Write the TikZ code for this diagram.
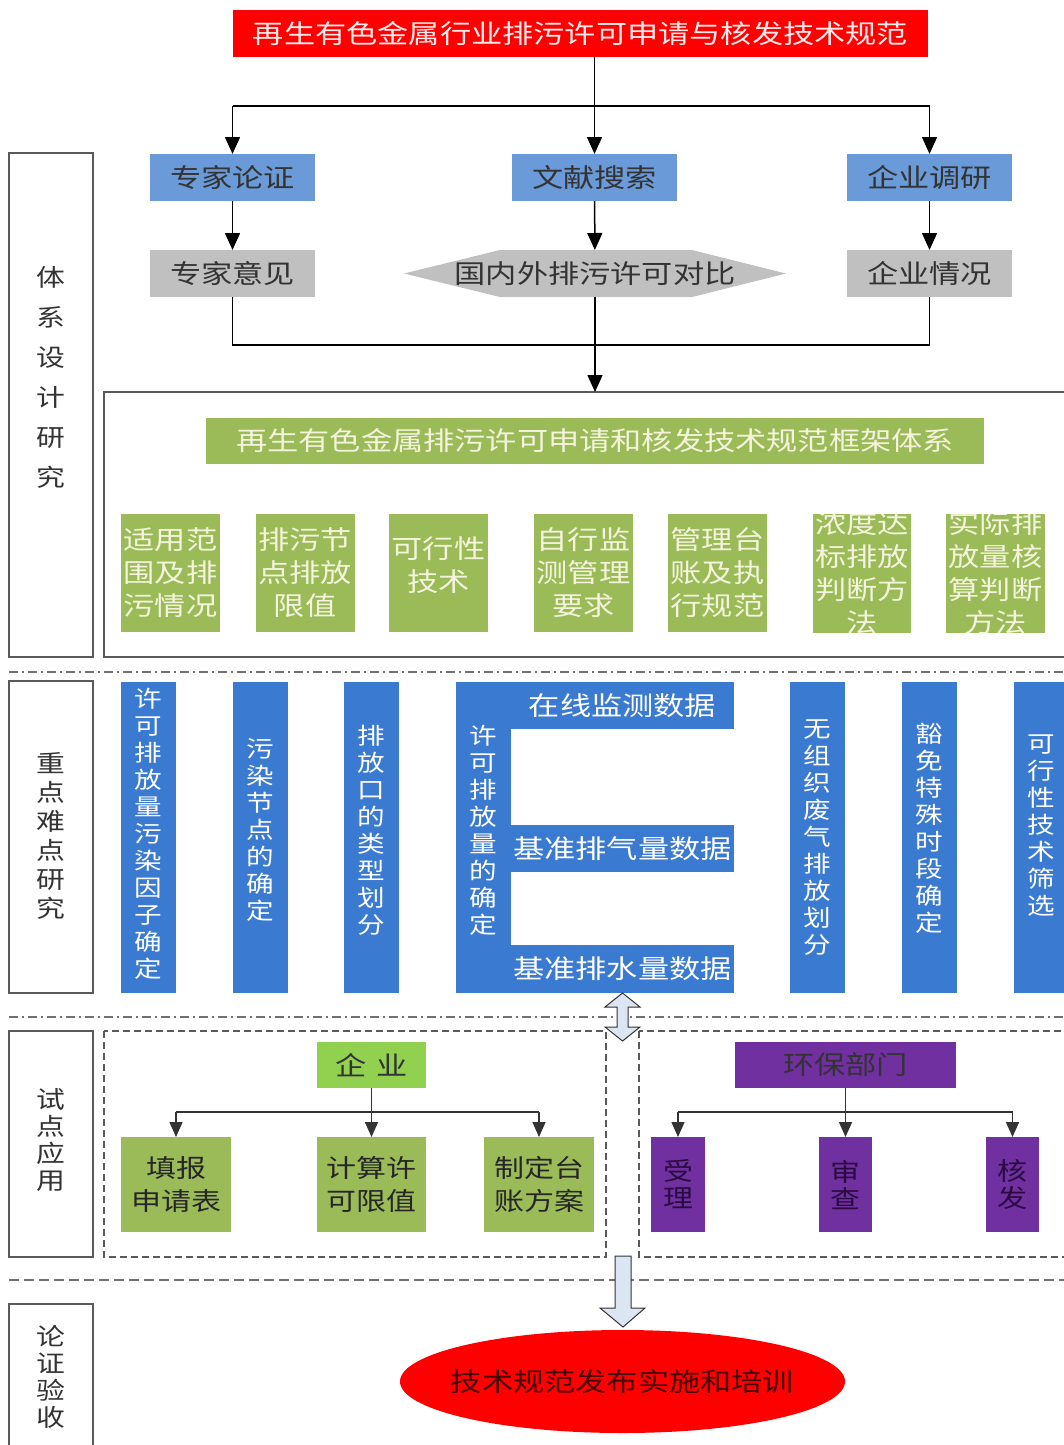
\documentclass[tikz,border=0pt]{standalone}
\usepackage{fontspec}
\setmainfont{Noto Sans CJK SC}[FakeStretch=1.2]
\usetikzlibrary{arrows.meta,shapes.geometric}
\definecolor{tred}{HTML}{FF0000}
\definecolor{lblue}{HTML}{6A9AD8}
\definecolor{bblue}{HTML}{3A7AD0}
\definecolor{lgray}{HTML}{C0C0C0}
\definecolor{olivec}{HTML}{9BBB59}
\definecolor{limec}{HTML}{92D050}
\definecolor{purp}{HTML}{7030A0}
\definecolor{arrfill}{HTML}{DCE6F2}
\definecolor{cream}{HTML}{F4F4DC}
\definecolor{darkt}{HTML}{333333}
\definecolor{framec}{HTML}{5A5A5A}
\definecolor{sepc}{HTML}{707070}
\definecolor{purtext}{HTML}{2A0A40}
\definecolor{redtext}{HTML}{450000}
\begin{document}
\begin{tikzpicture}[x=1pt,y=-1pt,
  box/.style={rectangle, inner sep=0pt, outer sep=0pt, align=center},
  fa/.style={font=\fontsize{26}{33}\selectfont},
  fbar/.style={font=\fontsize{23}{27}\selectfont},
  flab/.style={font=\fontsize{24}{27}\selectfont},
  arr/.style={draw=black, line width=1.5pt, -{Triangle[length=17pt,width=15pt]}},
  arrs/.style={draw=darkt, line width=1.5pt, -{Triangle[length=15pt,width=13pt]}},
  conn/.style={draw=black, line width=1.5pt},
  conns/.style={draw=darkt, line width=1.5pt},
  labbox/.style={box, draw=framec, line width=1.5pt, minimum width=84pt},
  labtext/.style={box, flab, text=darkt},
  topbox/.style={box, fa, fill=lblue, text=darkt, minimum width=165pt, minimum height=47pt},
  graybox/.style={box, fa, fill=lgray, text=darkt, minimum width=165pt, minimum height=47pt},
  gbox/.style={box, fa, fill=olivec, text=cream, minimum width=99pt, minimum height=118pt},
  bar/.style={box, fill=bblue, minimum width=55pt, minimum height=311pt},
  bartext/.style={box, fbar, text=white},
  subbar/.style={box, fa, fill=bblue, text=white, minimum width=223pt},
  obox/.style={box, font=\fontsize{25}{33}\selectfont, fill=olivec, text=black!85, minimum width=110pt, minimum height=95pt},
  pbox/.style={box, font=\fontsize{25}{27}\selectfont, fill=purp, text=purtext, minimum width=54pt, minimum height=95pt},
  dashsep/.style={draw=sepc, line width=2pt, dash pattern=on 9pt off 4pt on 2pt off 4pt},
  blockarr/.style={fill=arrfill, draw=darkt, line width=1pt, line join=miter}
]
\useasboundingbox (0,0) rectangle (1064,1445);
\fill[white] (0,0) rectangle (1064,1445);

% ---------- section 1 ----------
\node[box, fill=tred, minimum width=695pt, minimum height=47pt, text=white!92!red, fa] (title) at (580.5,33.5) {再生有色金属行业排污许可申请与核发技术规范};

\node[topbox] (zj) at (232.5,177.5) {专家论证};
\node[topbox] (wx) at (594.5,177.5) {文献搜索};
\node[topbox] (qy) at (929.5,177.5) {企业调研};

\node[graybox] (zjyj) at (232.5,273.5) {专家意见};
\fill[lgray] (404,273.5) -- (500,250) -- (692,250) -- (786,273.5) -- (692,297) -- (500,297) -- cycle;
\node[box, fa, text=darkt, minimum width=382pt, minimum height=47pt] (cmp) at (595,273.5) {国内外排污许可对比};
\node[graybox] (qyqk) at (929.5,273.5) {企业情况};

\coordinate (hj) at (594.5,106);
\coordinate (hb) at (594.5,345);
\draw[conn] (title.south -| wx.north) -- (hj);
\draw[conn] (hj -| zj.north) -- (hj -| qy.north);
\draw[arr] (hj -| zj.north) -- (zj.north);
\draw[arr] (hj) -- (wx.north);
\draw[arr] (hj -| qy.north) -- (qy.north);
\draw[arr] (zj) -- (zjyj);
\draw[arr] (wx) -- (cmp);
\draw[arr] (qy) -- (qyqk);
\draw[conn] (zjyj.south) -- (zjyj.south |- hb) -- (qyqk.south |- hb) -- (qyqk.south);

\node[box, draw=framec, line width=1.5pt, minimum width=971pt, minimum height=265pt] (fw) at (589.5,524.5) {};
\draw[arr] (cmp.south) -- (cmp.south |- fw.north);

\node[labbox, minimum height=504pt] (l1) at (51,405) {};
\node[labtext, font=\fontsize{24}{40}\selectfont] (l1t) at (51,377.5) {体\\系\\设\\计\\研\\究};

\node[box, fa, fill=olivec, text=cream, minimum width=778pt, minimum height=46pt] (bn) at (595,441) {再生有色金属排污许可申请和核发技术规范框架体系};

\node[gbox] (g1) at (170.5,573) {适用范\\围及排\\污情况};
\node[gbox] (g2) at (305,573) {排污节\\点排放\\限值};
\node[gbox] (g3) at (438.5,573) {};
\node[box, fa, text=cream] (g3t) at (438.5,565) {可行性\\技术};
\node[gbox] (g4) at (583.5,573) {自行监\\测管理\\要求};
\node[gbox] (g5) at (717.5,573) {管理台\\账及执\\行规范};
\begin{scope}
\clip (813,514) rectangle (911,632);
\node[gbox] (g6) at (862,573) {浓度达\\标排放\\判断方\\法};
\end{scope}
\begin{scope}
\clip (946,514) rectangle (1045,632);
\node[gbox] (g7) at (995.5,573) {实际排\\放量核\\算判断\\方法};
\end{scope}

\draw[dashsep] (9,672) -- (1064,672);

% ---------- section 2 ----------
\node[labbox, minimum height=312pt] (l2) at (51,837) {};
\node[labtext, font=\fontsize{24}{29}\selectfont] (l2t) at (51,835.5) {重\\点\\难\\点\\研\\究};

\node[bar] (b1) at (148.5,837.5) {};
\node[bar] (b2) at (260.5,837.5) {};
\node[bar] (b3) at (371.5,837.5) {};
\node[bar] (b4) at (483.5,837.5) {};
\node[bar] (b5) at (817.5,837.5) {};
\node[bar] (b6) at (929,837.5) {};
\node[bar, minimum width=56pt] (b7) at (1041.5,837.5) {};
\node[subbar, minimum height=47pt] (s1) at (622.5,705.5) {在线监测数据};
\node[subbar, minimum height=47pt] (s2) at (622.5,848.5) {基准排气量数据};
\node[subbar, minimum height=48pt] (s3) at (622.5,969) {基准排水量数据};

\node[bartext] (b1t) at (148.5,834) {许\\可\\排\\放\\量\\污\\染\\因\\子\\确\\定};
\node[bartext] (b2t) at (260.5,830) {污\\染\\节\\点\\的\\确\\定};
\node[bartext] (b3t) at (371.5,830) {排\\放\\口\\的\\类\\型\\划\\分};
\node[bartext] (b4t) at (483.5,830) {许\\可\\排\\放\\量\\的\\确\\定};
\node[bartext] (b5t) at (817.5,838) {无\\组\\织\\废\\气\\排\\放\\划\\分};
\node[bartext] (b6t) at (929,828) {豁\\免\\特\\殊\\时\\段\\确\\定};
\node[bartext] (b7t) at (1041,826) {可\\行\\性\\技\\术\\筛\\选};

\draw[dashsep] (9,1017) -- (1064,1017);

% ---------- section 3 ----------
\node[labbox, minimum height=226pt] (l3) at (51,1144) {};
\node[labtext] (l3t) at (51,1140) {试\\点\\应\\用};

\draw[draw=framec, line width=1.5pt, dash pattern=on 7pt off 4pt] (104,1031) rectangle (606,1257);
\draw[draw=framec, line width=1.5pt, dash pattern=on 7pt off 4pt] (639,1031) rectangle (1075,1257);

\node[box, fa, fill=limec, text=darkt, minimum width=109pt, minimum height=46pt] (qyn) at (371.5,1065) {企\hspace{10pt}业};
\node[obox] (o1) at (176,1184.5) {填报\\申请表};
\node[obox, minimum width=109pt] (o2) at (371.5,1184.5) {计算许\\可限值};
\node[obox] (o3) at (539,1184.5) {制定台\\账方案};

\coordinate (e1) at (371.5,1112);
\draw[conns] (qyn.south) -- (e1);
\draw[conns] (e1 -| o1.north) -- (e1 -| o3.north);
\draw[arrs] (e1 -| o1.north) -- (o1.north);
\draw[arrs] (e1) -- (o2.north);
\draw[arrs] (e1 -| o3.north) -- (o3.north);

\node[box, fa, fill=purp, text=black!80, minimum width=221pt, minimum height=46pt] (hb1) at (845.5,1065) {环保部门};
\node[pbox] (p1) at (678,1184.5) {受\\理};
\node[pbox, minimum width=53pt] (p2) at (845.5,1184.5) {审\\查};
\node[pbox, minimum width=53pt] (p3) at (1012.5,1184.5) {核\\发};

\coordinate (e2) at (845.5,1112);
\draw[conns] (hb1.south) -- (e2);
\draw[conns] (e2 -| p1.north) -- (e2 -| p3.north);
\draw[arrs] (e2 -| p1.north) -- (p1.north);
\draw[arrs] (e2) -- (p2.north);
\draw[arrs] (e2 -| p3.north) -- (p3.north);

% double block arrow between sections 2 and 3
\filldraw[blockarr] (622.5,993) -- (640,1007) -- (628,1007) -- (628,1027) -- (640,1027) -- (622.5,1041) -- (605,1027) -- (617,1027) -- (617,1007) -- (605,1007) -- cycle;

\draw[draw=sepc, line width=2pt, dash pattern=on 10pt off 5pt] (9,1280) -- (1064,1280);

% ---------- section 4 ----------
\node[labbox, minimum height=156pt] (l4) at (51,1382) {};
\node[labtext] (l4t) at (51,1377) {论\\证\\验\\收};

\fill[tred] (622.5,1381.5) ellipse [x radius=222.5pt, y radius=51.5pt];
\node[box, fa, text=redtext] (el) at (622.5,1381.5) {技术规范发布实施和培训};

\filldraw[blockarr] (615,1256) -- (631,1256) -- (631,1308) -- (645,1308) -- (623,1327) -- (600,1308) -- (615,1308) -- cycle;

\end{tikzpicture}
\end{document}
